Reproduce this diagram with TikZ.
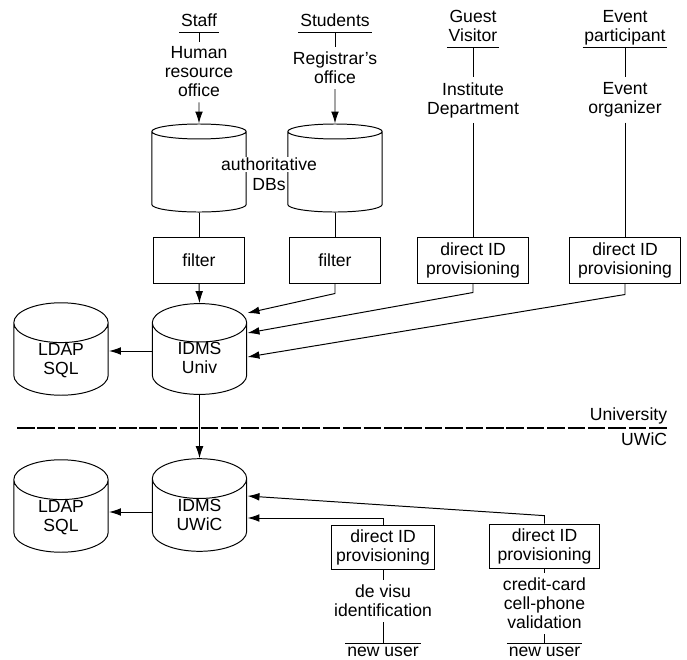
\documentclass[tikz,border=0pt]{standalone}
\usepackage{fontspec}
\setmainfont{Liberation Sans}
\usetikzlibrary{shapes.geometric,arrows.meta,calc,positioning}
\tikzset{
  db/.style={draw, cylinder, shape border rotate=90, aspect=0.72, anchor=shape center,
    minimum width=2.36cm, minimum height=2.1cm, align=center, inner ysep=0pt, text depth=7pt},
  filterbox/.style={draw, minimum width=2.25cm, minimum height=1.15cm, align=center},
  idbox/.style={filterbox, minimum width=2.75cm},
  who/.style={anchor=south, inner xsep=1pt, inner ysep=1pt, text depth=2.6pt, align=center},
  newuser/.style={anchor=north, inner xsep=1pt, inner ysep=2.5pt},
  txt/.style={align=center},
  arr/.style={-{Latex[length=8.5pt,width=5.5pt]}},
  dashline/.style={line width=1pt, dash pattern=on 12.5pt off 2pt}
}
\begin{document}
\begin{tikzpicture}[x=0.025cm, y=-0.025cm, line width=0.7pt, font=\fontsize{12.5}{13.5}\selectfont]
  \useasboundingbox (0,0) rectangle (687,660);
  \node[who] (staff) at (199,32) {Staff};
  \node[who] (students) at (335,32) {Students};
  \node[who] (guest) at (473,47) {Guest\\Visitor};
  \node[who] (event) at (625,47) {Event\\participant};
  \foreach \n in {staff,students,guest,event}
    \draw (\n.south west) -- (\n.south east);
  \node[txt] (humres) at (199,72) {Human\\resource\\office};
  \node[txt] (registrar) at (335,68) {Registrar's\\office};
  \node[txt] (institute) at (473,100) {Institute\\Department};
  \node[txt] (organizer) at (625,100) {Event\\organizer};

  \node[db, aspect=1.6, minimum height=2.2cm] (authL) at (199,168) {};
  \node[db, aspect=1.6, minimum height=2.2cm] (authR) at (335,168) {};
  \node[fill=white, inner sep=1pt] (authtext) at (269,164.5) {authoritative};
  \node[below=0pt of authtext] (dbtext) {DBs};

  \node[filterbox] (filterL) at (199,260) {filter};
  \node[filterbox] (filterR) at (335,260) {filter};
  \node[idbox] (provA) at (473,260) {direct ID\\provisioning};
  \node[idbox] (provB) at (625,260) {direct ID\\provisioning};

  \node[db] (univ) at (199.5,349) {IDMS\\Univ};
  \node[db] (ldapU) at (61,349) {LDAP\\SQL};
  \node[db] (uwic) at (199.5,505) {IDMS\\UWiC};
  \node[db] (ldapW) at (61,506) {LDAP\\SQL};

  \draw[dashline] (17,428) -- (669,428);
  \node[anchor=south east, inner sep=1pt] (univlabel) at (669,426) {University};
  \node[anchor=north east, inner sep=1pt] (uwiclabel) at (669,431) {UWiC};

  \node[idbox, minimum width=2.525cm, minimum height=1.075cm] (provC) at (383,547.5) {direct ID\\provisioning};
  \node[idbox, minimum height=1.075cm] (provD) at (544.5,546.5) {direct ID\\provisioning};
  \node[txt] (devisu) at (383,601) {de visu\\identification};
  \node[txt] (credit) at (544.5,603.5) {credit-card\\cell-phone\\validation};
  \node[newuser] (newC) at (383,643) {new user};
  \node[newuser] (newD) at (544.5,643) {new user};
  \foreach \n in {newC,newD}
    \draw (\n.north west) -- (\n.north east);

  \draw (staff.south) -- (humres.north);
  \draw (students.south) -- (registrar.north);
  \draw (guest.south) -- (institute.north);
  \draw (event.south) -- (organizer.north);
  \draw[arr] (humres.south) -- (authL.north);
  \draw[arr] (registrar.south) -- (authR.north);
  \draw (institute.south) -- (provA.north);
  \draw (organizer.south) -- (provB.north);
  \draw (authL.south) -- (filterL.north);
  \draw (authR.south) -- (filterR.north);

  \draw[arr] (filterL.south) -- (univ.north);
  \draw[arr] (filterR.south) -- ++(0,10) -- ($(univ.shape center)+(48,-36)$);
  \draw[arr] (provA.south) -- ++(0,9) -- ($(univ.shape center)+(48,-16)$);
  \draw[arr] (provB.south) -- ++(0,11) -- ($(univ.shape center)+(48,8)$);
  \draw[arr] ($(univ.shape center)+(-48,2)$) -- ($(ldapU.shape center)+(48,2)$);
  \draw[arr] (univ.south) -- (uwic.north);
  \draw[arr] ($(uwic.shape center)+(-48,7)$) -- ($(ldapW.shape center)+(48,6)$);
  \draw[arr] (provC.north) |- ($(uwic.shape center)+(48,13)$);
  \draw[arr] (provD.north) -- ++(0,-8) -- ($(uwic.shape center)+(48,-9)$);

  \draw (provC.south) -- (devisu.north);
  \draw (devisu.south) -- (newC.north);
  \draw (provD.south) -- (credit.north);
  \draw (credit.south) -- (newD.north);
\end{tikzpicture}
\end{document}
